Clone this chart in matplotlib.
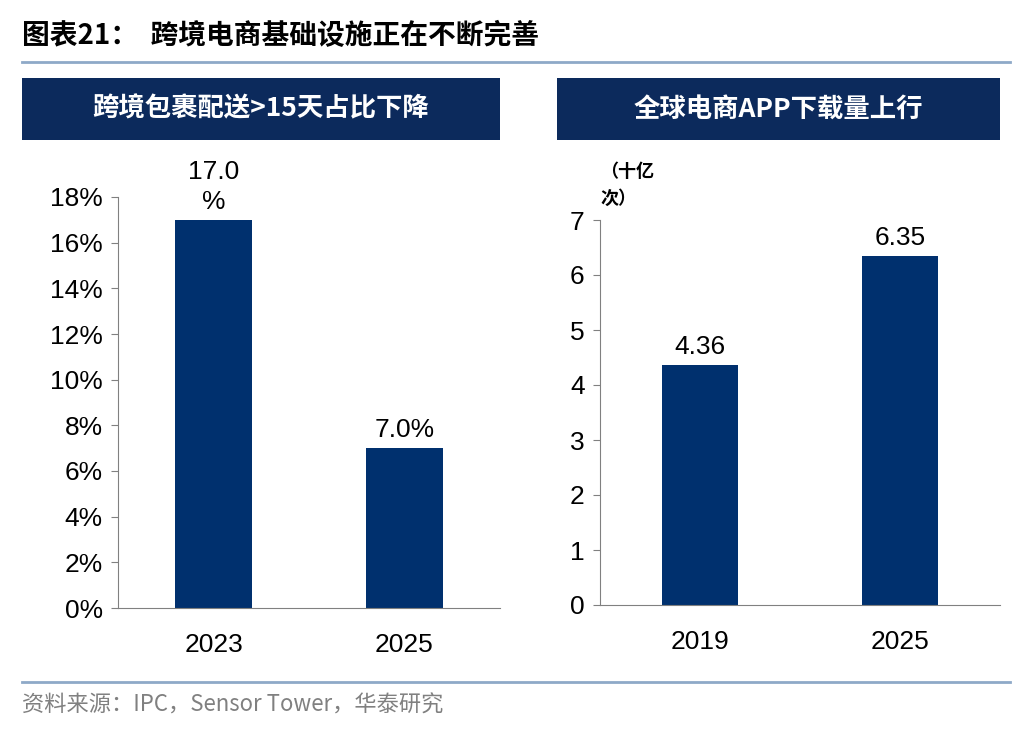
import matplotlib
matplotlib.use("Agg")
import matplotlib.pyplot as plt
from matplotlib.patches import Rectangle
from matplotlib.lines import Line2D

plt.rcParams['font.family'] = ['Liberation Sans', 'Noto Sans CJK SC']

left_cats = ['2023', '2025']
left_vals = [17.0, 7.0]
left_labels = ['17.0\n%', '7.0%']
left_ticks = list(range(0, 20, 2))

right_cats = ['2019', '2025']
right_vals = [4.36, 6.35]
right_labels = ['4.36', '6.35']
right_ticks = list(range(0, 8))

BAR = '#00306e'
HEAD = '#0c2a5c'
W, H = 1036, 732
fig = plt.figure(figsize=(W/100, H/100), dpi=100)

def fx(x): return x / W
def fy(y): return 1 - y / H

cjk = ['Noto Sans CJK SC', 'Liberation Sans']
fig.text(fx(22), fy(36), '图表21：  跨境电商基础设施正在不断完善', fontsize=20, fontweight='bold',
         va='center', ha='left', family=cjk)
fig.add_artist(Line2D([fx(22), fx(1010)], [fy(62), fy(62)], color='#8ea9c8', lw=2))
fig.add_artist(Line2D([fx(22), fx(1010)], [fy(682), fy(682)], color='#8ea9c8', lw=2))
fig.text(fx(22), fy(705), '资料来源：IPC，Sensor Tower，华泰研究', fontsize=16, color='#808080',
         va='center', ha='left', family=cjk)

for (x0, x1, txt) in [(22, 500, '跨境包裹配送>15天占比下降'), (557, 1000, '全球电商APP下载量上行')]:
    fig.add_artist(Rectangle((fx(x0), fy(140)), fx(x1) - fx(x0), fy(78) - fy(140),
                             facecolor=HEAD, edgecolor='none', transform=fig.transFigure))
    fig.text((fx(x0) + fx(x1)) / 2, (fy(78) + fy(140)) / 2, txt, color='white', fontsize=19,
             fontweight='bold', ha='center', va='center', family=cjk)

def panel(rect, cats, vals, labels, ticks, ylim, width, fmt):
    ax = fig.add_axes(rect)
    x = range(len(cats))
    ax.bar(x, vals, width=width, color=BAR)
    for xi, v, l in zip(x, vals, labels):
        ax.text(xi, v + ylim * 0.015, l, ha='center', va='bottom', fontsize=19, linespacing=1.3)
    ax.set_xlim(-0.5, 1.5)
    ax.set_ylim(0, ylim)
    ax.set_xticks(list(x))
    ax.set_xticklabels(cats, fontsize=19)
    ax.set_yticks(ticks)
    ax.set_yticklabels([fmt(t) for t in ticks], fontsize=19)
    for s in ['top', 'right']:
        ax.spines[s].set_visible(False)
    for s in ['left', 'bottom']:
        ax.spines[s].set_color('#808080')
    ax.tick_params(axis='y', direction='out', length=5, color='#808080', pad=6)
    ax.tick_params(axis='x', length=0, pad=18)
    return ax

panel([fx(118), fy(608), fx(500) - fx(118), fy(197) - fy(608)], left_cats, left_vals, left_labels,
      left_ticks, 18, 0.4, lambda t: f'{t}%')
panel([fx(600), fy(605), fx(1000) - fx(600), fy(220) - fy(605)], right_cats, right_vals, right_labels,
      right_ticks, 7, 0.38, lambda t: f'{t}')
fig.text(fx(600), fy(185), '（十亿\n次）', fontsize=13, fontweight='bold', ha='left', va='center',
         family=cjk, linespacing=1.5)

fig.savefig('out.png', dpi=100)
